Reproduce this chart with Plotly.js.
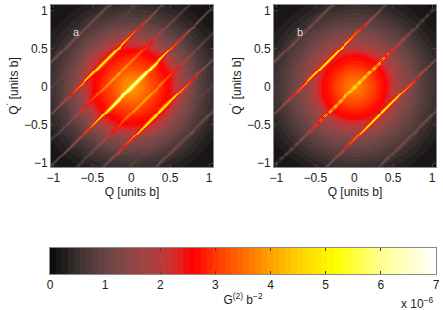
<!DOCTYPE html>
<html><head><meta charset="utf-8">
<script src="https://cdn.plot.ly/plotly-3.0.1.min.js"></script>
<style>html,body{margin:0;padding:0;background:#fff}</style></head>
<body><div id="c" style="width:443px;height:310px"></div>
<script>
// Values.
var colorLevels=[0,0.5,1,1.5,2,2.3,2.6,3,3.5,4,4.5,5.2,6,7];
var colorHex=['#0a0a0a','#3a3030','#694444','#8f4747','#b83c3c','#dd2525','#ff0000','#ff3800','#ff6c00','#ffa000','#ffcf00','#ffff00','#ffff90','#ffffff'];
var tickVals=[-1,-0.5,0,0.5,1];
var barTicks=[0,1,2,3,4,5,6,7];
var bandCount=64;
// background level against radius
var radii=[0,0.1,0.2,0.3,0.4,0.5,0.6,0.7,0.8,0.9,1.0,1.1,1.2,1.3,1.5];
var bgA=[3.9,3.75,3.4,3.05,2.8,2.5,1.95,1.45,1.1,0.8,0.58,0.4,0.26,0.16,0.08];
var bgB=[3.7,3.5,3.2,2.85,2.6,2.05,1.6,1.3,1.0,0.8,0.58,0.4,0.26,0.16,0.08];
// ridge peak level against distance along the ridge
var along=[0,0.1,0.2,0.3,0.4,0.5,0.6,0.7,0.8,1.0,1.2];
var aCentre=[7,7,6.6,5.7,5.1,4.0,2.9,2.1,1.45,0.9,0.45];
var aInner=[4.2,4.0,3.7,3.3,2.9,2.1,1.35,1.0,0.8,0.55,0.3];
var aStrong=[5.3,5.3,4.9,4.1,3.2,2.3,1.5,1.15,0.95,0.7,0.4];
var aThird=[1.15,1.15,1.1,1.0,0.9,0.8,0.65,0.5,0.4,0.28,0.18];
var aOuter=[1.2,1.2,1.18,1.14,1.06,0.96,0.82,0.65,0.48,0.26,0.16];
var bCentre=[5.0,5.0,4.8,4.5,4.0,3.0,2.0,1.4,1.05,0.7,0.35];
var bStrong=[5.3,5.3,4.9,4.1,3.2,2.3,1.5,1.15,0.95,0.7,0.4];
var bOuter=[1.2,1.2,1.18,1.14,1.06,0.96,0.82,0.65,0.48,0.26,0.16];
// width of the ridges along their length
var wide=[1.2,1.2,1.15,1.1,1.0,0.9,0.85,0.8,0.8,0.8,0.8];
var thin=[1,1,1,1,1,1,1,1,1,1,1];
var soft=[1.2,1.2,1.2,1.2,1.2,1.2,1.2,1.2,1.2,1.2,1.2];
// cross-section of a ridge
var crossD=[0,0.008,0.016,0.026,0.04,0.055];
var crossV=[1,0.85,0.5,0.2,0.05,0];
var splitD=[0,0.012,0.024,0.036,0.05];
var splitV=[0.6,1,0.5,0.1,0];
// dots along the thin central ridge of panel b
var dotPattern=[1,0.9,0.6,0.5,0.75];
var ridgesA=[[0,aCentre,wide],[0.34,aInner,thin],[-0.34,aInner,thin],[0.68,aStrong,wide],[-0.68,aStrong,wide],[1.02,aThird,thin],[-1.02,aThird,thin],[1.36,aOuter,soft],[-1.36,aOuter,soft]];
var ridgesB=[[0,bCentre,thin,true],[0.68,bStrong,wide],[-0.68,bStrong,wide],[1.36,bOuter,soft],[-1.36,bOuter,soft]];
var step=0.0125;
var axisQ=[];for(var i=-88;i<=88;i++)axisQ.push(i*step);

function look(xs,ys,x){if(x<=xs[0])return ys[0];for(var i=1;i<xs.length;i++){if(x<=xs[i]){var f=(x-xs[i-1])/(xs[i]-xs[i-1]);return ys[i-1]+f*(ys[i]-ys[i-1]);}}return ys[ys.length-1];}
var scale=colorLevels.map(function(v,i){return [v/7,colorHex[i]];});
function quant(v){var k=Math.min(bandCount-1,Math.floor(v/7*bandCount));return (k+0.5)*7/bandCount;}
function build(bg,ridges){
  return axisQ.map(function(qp){return axisQ.map(function(q){
    var base=look(radii,bg,Math.sqrt(q*q+qp*qp)),v=base,t=Math.abs(q+qp)/2;
    ridges.forEach(function(r){
      var dd=Math.abs(qp-q-r[0])/look(along,r[2],t);
      var c=r[3]?look(splitD,splitV,dd)*dotPattern[Math.round(t/step)%dotPattern.length]:look(crossD,crossV,dd);
      if(c>0){var p=look(along,r[1],t);if(p>base){v=Math.max(v,base+(p-base)*c);}}
    });
    return quant(v);
  });});
}
var bandCentres=[];for(var k=0;k<bandCount;k++)bandCentres.push((k+0.5)*7/bandCount);
var common={type:'heatmap',colorscale:scale,zmin:0,zmax:7,showscale:false,hoverinfo:'skip'};
var traces=[
 Object.assign({},common,{x:axisQ,y:axisQ,z:build(bgA,ridgesA),xaxis:'x',yaxis:'y',zsmooth:'best'}),
 Object.assign({},common,{x:axisQ,y:axisQ,z:build(bgB,ridgesB),xaxis:'x2',yaxis:'y2',zsmooth:'best'}),
 Object.assign({},common,{x:bandCentres,y:[0,1],z:[bandCentres,bandCentres],xaxis:'x3',yaxis:'y3'})
];
var W=443,H=310,font={family:'"Liberation Sans",Arial,sans-serif',size:12,color:'#222'};
function dx(a,b){return [a/W,b/W];}
function dy(t,b){return [1-b/H,1-t/H];}
function ax(extra){return Object.assign({ticks:'inside',ticklen:3,tickcolor:'#444',linecolor:'#8a8a8a',linewidth:1,mirror:'allticks',showgrid:false,zeroline:false,tickfont:font},extra);}
var xr=[-1.03,1.05],yr=[-1.05,1.07];
var layout={width:W,height:H,margin:{l:0,r:0,t:0,b:0},paper_bgcolor:'#fff',plot_bgcolor:'#000',font:font,showlegend:false,
 xaxis:ax({domain:dx(51,213),range:xr,tickvals:tickVals,anchor:'y',title:{text:'Q [units b]',font:font,standoff:3}}),
 yaxis:ax({domain:dy(5,167),range:yr,tickvals:tickVals,anchor:'x',title:{text:'Q<sup>´</sup> [units b]',font:font,standoff:2}}),
 xaxis2:ax({domain:dx(274,436),range:xr,tickvals:tickVals,anchor:'y2',title:{text:'Q [units b]',font:font,standoff:3}}),
 yaxis2:ax({domain:dy(5,167),range:yr,tickvals:tickVals,anchor:'x2',title:{text:'Q<sup>´</sup> [units b]',font:font,standoff:2}}),
 xaxis3:ax({domain:dx(50,436),range:[0,7],tickvals:barTicks,anchor:'y3',title:{text:'G<sup>(2)</sup> b<sup>−2</sup>',font:font,standoff:4}}),
 yaxis3:ax({domain:dy(248,274),range:[0,1],showticklabels:false,ticks:'',anchor:'x3'}),
 annotations:[
  {xref:'x',yref:'y',x:-0.7,y:0.72,text:'a',showarrow:false,font:{family:font.family,size:11,color:'#ddd'}},
  {xref:'x2',yref:'y2',x:-0.7,y:0.72,text:'b',showarrow:false,font:{family:font.family,size:11,color:'#ddd'}},
  {xref:'paper',yref:'paper',x:436/W,y:(H-303)/H,xanchor:'right',yanchor:'middle',text:'x 10<sup>−6</sup>',showarrow:false,font:font}
 ]};
Plotly.newPlot('c',traces,layout,{displayModeBar:false,responsive:false});
</script></body></html>
